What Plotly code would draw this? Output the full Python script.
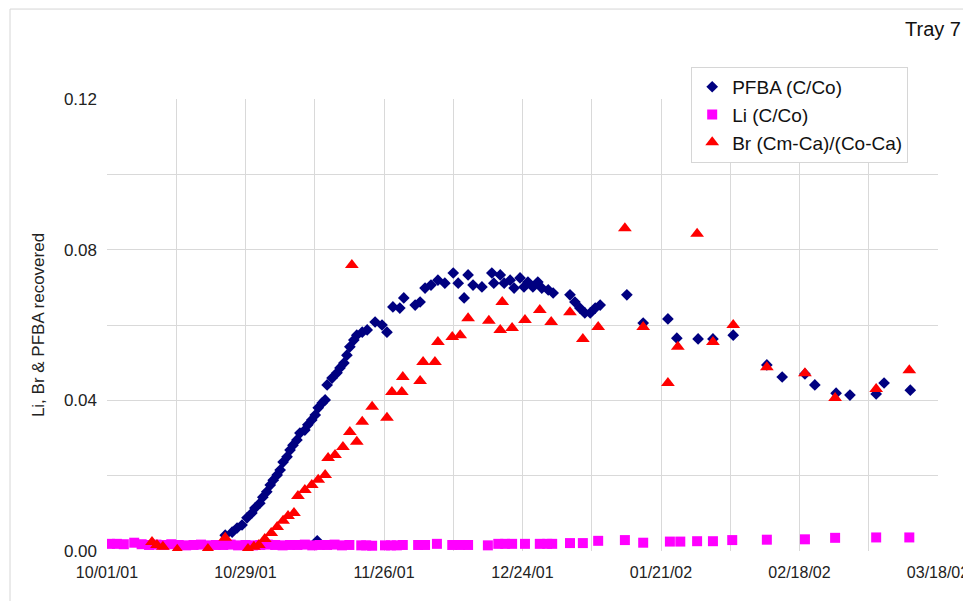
import pandas as pd
import plotly.graph_objects as go

# days since 10/01/01 and fractions recovered
start = pd.Timestamp("2001-10-01")

pfba_day = [23.9, 25.3, 26.3, 27.3, 28.3, 29.3, 29.9, 30.9, 31.5, 32.3, 33.0, 33.6, 34.4,
            35.0, 35.6, 36.4, 37.0, 37.6, 38.4, 39.0, 40.0, 40.6, 41.4, 42.1, 42.5, 42.7,
            43.5, 44.1, 44.5, 45.5, 46.5, 47.1, 47.9, 48.5, 49.1, 49.9, 50.5, 51.6, 52.6,
            54.2, 55.6, 56.6, 57.8, 59.2, 60.0, 62.3, 63.3, 64.3, 65.5, 66.9, 68.3, 70.0,
            71.0, 72.2, 73.0, 74.0, 75.8, 77.8, 78.2, 79.5, 80.3, 81.5, 82.3, 83.5, 84.3,
            85.1, 86.1, 87.1, 87.9, 89.2, 90.2, 93.6, 94.6, 95.6, 96.6, 97.7, 98.7, 99.7,
            105.1, 108.4, 113.4, 115.2, 119.5, 122.5, 126.6, 133.4, 136.5, 141.1, 143.1,
            147.4, 150.2, 155.5, 157.1, 162.4]
pfba_val = [0.0042, 0.0050, 0.0061, 0.0069, 0.0088, 0.0101, 0.0114, 0.0127, 0.0143, 0.0157,
            0.0175, 0.0188, 0.0202, 0.0215, 0.0236, 0.0250, 0.0268, 0.0281, 0.0295, 0.0313,
            0.0321, 0.0335, 0.0348, 0.0361, 0.0027, 0.0380, 0.0393, 0.0401, 0.0441, 0.0459,
            0.0473, 0.0486, 0.0499, 0.0520, 0.0542, 0.0560, 0.0573, 0.0581, 0.0587, 0.0608,
            0.0600, 0.0581, 0.0648, 0.0645, 0.0672, 0.0653, 0.0661, 0.0698, 0.0706, 0.0719,
            0.0711, 0.0738, 0.0711, 0.0672, 0.0733, 0.0706, 0.0701, 0.0738, 0.0711, 0.0733,
            0.0711, 0.0719, 0.0698, 0.0725, 0.0701, 0.0714, 0.0701, 0.0714, 0.0698, 0.0693,
            0.0685, 0.0680, 0.0661, 0.0645, 0.0632, 0.0632, 0.0645, 0.0653, 0.0680, 0.0605,
            0.0616, 0.0565, 0.0563, 0.0563, 0.0573, 0.0494, 0.0462, 0.0470, 0.0441, 0.0419,
            0.0414, 0.0417, 0.0446, 0.0427]

li_day = [0.6, 2.0, 3.4, 5.5, 7.0, 8.5, 10.0, 11.5, 13.0, 14.5, 16.0, 17.5, 19.0, 20.5,
          22.0, 23.5, 25.0, 26.5, 28.0, 29.5, 31.0, 32.5, 34.0, 35.5, 37.0, 38.5, 40.0,
          41.5, 43.0, 44.5, 46.0, 47.5, 49.0, 51.4, 52.4, 53.6, 56.2, 57.4, 58.6, 59.8,
          62.9, 64.3, 66.7, 69.8, 71.4, 73.0, 77.0, 79.1, 80.5, 81.9, 84.5, 87.5, 89.0,
          90.0, 93.6, 96.2, 99.3, 104.7, 108.4, 113.8, 115.9, 119.3, 122.5, 126.4, 133.4,
          141.1, 147.2, 155.5, 162.2]
li_val = [0.0019, 0.0019, 0.0018, 0.0022, 0.0018, 0.0016, 0.0017, 0.0016, 0.0018, 0.0016,
          0.0015, 0.0016, 0.0017, 0.0015, 0.0016, 0.0016, 0.0017, 0.0015, 0.0016, 0.0015,
          0.0016, 0.0017, 0.0016, 0.0015, 0.0016, 0.0016, 0.0017, 0.0015, 0.0016, 0.0016,
          0.0017, 0.0015, 0.0016, 0.0015, 0.0015, 0.0014, 0.0015, 0.0015, 0.0015, 0.0016,
          0.0016, 0.0016, 0.0019, 0.0016, 0.0016, 0.0016, 0.0015, 0.0019, 0.0019, 0.0019,
          0.0019, 0.0019, 0.0019, 0.0019, 0.0021, 0.0021, 0.0027, 0.0029, 0.0022, 0.0025,
          0.0025, 0.0026, 0.0026, 0.0029, 0.0030, 0.0031, 0.0035, 0.0036, 0.0036]

br_day = [9.1, 10.1, 11.3, 14.2, 20.4, 23.9, 28.5, 29.7, 30.7, 31.9, 33.2, 34.4, 35.6, 36.6,
          37.8, 38.6, 40.0, 41.4, 42.7, 44.1, 44.7, 46.1, 47.7, 49.1, 49.5, 50.5, 51.6,
          53.6, 56.6, 57.6, 59.6, 59.8, 63.3, 63.9, 66.3, 66.9, 69.8, 71.4, 73.0, 77.2,
          79.5, 79.9, 81.9, 84.5, 87.5, 89.8, 93.6, 96.2, 99.3, 104.7, 108.4, 113.4, 115.4,
          119.3, 122.5, 126.6, 133.4, 141.1, 147.2, 155.5, 162.2]
br_val = [0.0024, 0.0016, 0.0011, 0.0003, 0.0005, 0.0035, 0.0005, 0.0011, 0.0016, 0.0032,
          0.0048, 0.0064, 0.0080, 0.0093, 0.0101, 0.0146, 0.0162, 0.0175, 0.0189, 0.0202,
          0.0247, 0.0255, 0.0276, 0.0316, 0.0759, 0.0290, 0.0343, 0.0383, 0.0354, 0.0422,
          0.0422, 0.0462, 0.0451, 0.0502, 0.0502, 0.0555, 0.0568, 0.0573, 0.0618, 0.0611,
          0.0587, 0.0661, 0.0592, 0.0613, 0.0640, 0.0608, 0.0634, 0.0563, 0.0595, 0.0857,
          0.0595, 0.0446, 0.0542, 0.0842, 0.0555, 0.0600, 0.0488, 0.0472, 0.0406, 0.0430,
          0.0480]

x_ticks = ["10/01/01", "10/29/01", "11/26/01", "12/24/01", "01/21/02", "02/18/02", "03/18/02"]


def to_dates(days):
    return start + pd.to_timedelta(days, unit="D")


fig = go.Figure()
fig.add_trace(go.Scatter(x=to_dates(pfba_day), y=pfba_val, mode="markers", name="PFBA (C/Co)",
                         marker=dict(symbol="diamond", size=9, color="#000080", line_width=0)))
fig.add_trace(go.Scatter(x=to_dates(li_day), y=li_val, mode="markers", name="Li (C/Co)",
                         marker=dict(symbol="square", size=10, color="#FF00FF", line_width=0)))
fig.add_trace(go.Scatter(x=to_dates(br_day), y=br_val, mode="markers", name="Br (Cm-Ca)/(Co-Ca)",
                         marker=dict(symbol="triangle-up", size=12, color="#FF0000", line_width=0)))

tick_dates = [start + pd.Timedelta(days=28 * i) for i in range(len(x_ticks))]
grid = "#d9d9d9"

fig.update_xaxes(range=[tick_dates[0], tick_dates[-1]], tickvals=tick_dates, ticktext=x_ticks,
                 showgrid=True, gridcolor=grid, zeroline=False, showline=False, automargin=False,
                 minor=dict(dtick=14 * 86400000, tick0="2001-10-01", showgrid=True, gridcolor=grid),
                 tickfont=dict(size=16, color="#222"), ticklabelstandoff=10)
fig.update_yaxes(range=[0, 0.12], tickvals=[0, 0.04, 0.08, 0.12], tickformat=".2f",
                 showgrid=True, gridcolor=grid, zeroline=False, showline=False, automargin=False,
                 minor=dict(dtick=0.02, showgrid=True, gridcolor=grid),
                 tickfont=dict(size=17, color="#222"), ticklabelstandoff=9,
                 title=dict(text="Li, Br & PFBA recovered", font=dict(size=17, color="#222"), standoff=14))

# light frame round the whole chart area
fig.add_shape(type="rect", xref="paper", yref="paper", x0=-0.1167, x1=1.0325, y0=-0.15, y1=1.199,
              line=dict(color="#d6d6d6", width=1), layer="below")
fig.add_annotation(text="Tray 7", xref="paper", yref="paper", x=1.030, y=1.155,
                   xanchor="right", yanchor="middle", showarrow=False,
                   font=dict(size=20, color="#111"))

# page body adds 8px, so the figure is 8px smaller and margins shifted
fig.update_layout(
    width=963, height=593, autosize=False,
    margin=dict(l=99, r=33, t=91, b=50),
    plot_bgcolor="white", paper_bgcolor="white",
    font=dict(family="Liberation Sans, Arial, sans-serif"),
    legend=dict(x=0.703, y=1.071, xanchor="left", yanchor="top", bgcolor="white",
                bordercolor="#d6d6d6", borderwidth=1, font=dict(size=19, color="#111"),
                tracegroupgap=0),
    showlegend=True,
)

fig.write_html("out.html")
